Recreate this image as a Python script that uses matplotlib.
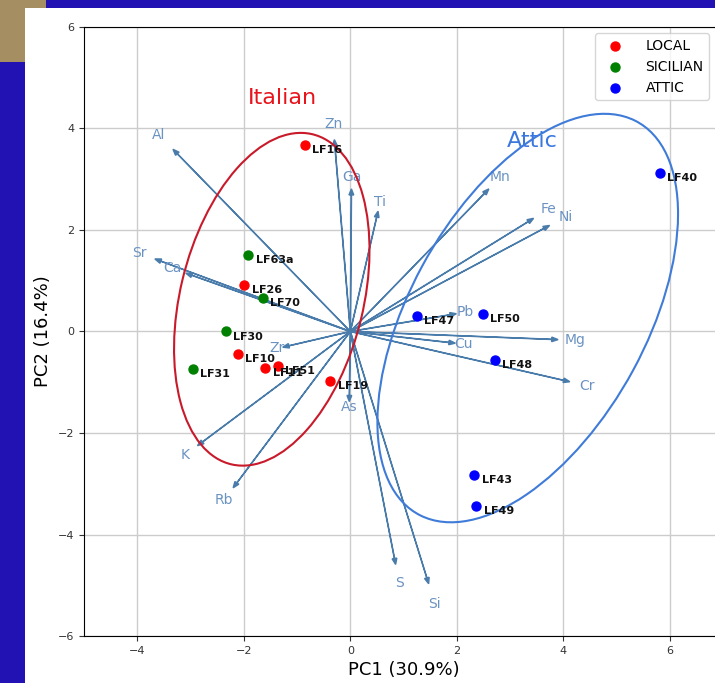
import numpy as np
import matplotlib
matplotlib.use("Agg")
import matplotlib.pyplot as plt
from matplotlib.patches import Ellipse, Rectangle

# PCA biplot: sample scores + element loadings

groups = ["LOCAL", "SICILIAN", "ATTIC"]
group_colors = ["red", "green", "blue"]

local_names = ["LF16", "LF26", "LF10", "LF11", "LF51", "LF19"]
local_pc1 = [-0.86, -1.99, -2.11, -1.60, -1.36, -0.38]
local_pc2 = [3.67, 0.91, -0.44, -0.71, -0.68, -0.97]

sicil_names = ["LF63a", "LF70", "LF30", "LF31"]
sicil_pc1 = [-1.92, -1.64, -2.34, -2.96]
sicil_pc2 = [1.50, 0.66, 0.00, -0.74]

attic_names = ["LF40", "LF47", "LF50", "LF48", "LF43", "LF49"]
attic_pc1 = [5.81, 1.25, 2.49, 2.71, 2.33, 2.36]
attic_pc2 = [3.13, 0.30, 0.35, -0.56, -2.82, -3.44]

elements = ["Al", "Zn", "Ga", "Ti", "Sr", "Ca", "Zr", "K", "Rb", "As",
            "S", "Si", "Mn", "Fe", "Ni", "Pb", "Mg", "Cu", "Cr"]
load_pc1 = [-3.33, -0.30, 0.02, 0.52, -3.67, -3.09, -1.27, -2.87, -2.20, -0.02,
            0.85, 1.47, 2.60, 3.44, 3.74, 1.99, 3.90, 1.97, 4.12]
load_pc2 = [3.59, 3.78, 2.81, 2.37, 1.43, 1.15, -0.31, -2.25, -3.08, -1.38,
            -4.59, -4.97, 2.81, 2.23, 2.09, 0.35, -0.16, -0.23, -0.99]

fig = plt.figure(figsize=(7.15, 6.83), dpi=100)
fig.patch.set_facecolor("#2212b4")
fig.add_artist(Rectangle((0, 0.909), 0.064, 0.091, transform=fig.transFigure,
                         facecolor="#a58f62", edgecolor="none", zorder=0))
fig.add_artist(Rectangle((0.035, 0), 1.0, 0.988, transform=fig.transFigure,
                         facecolor="white", edgecolor="none", zorder=0))

ax = fig.add_axes([0.1175, 0.0688, 0.894, 0.8917])
ax.set_xlim(-5, 7)
ax.set_ylim(-6, 6)
ax.grid(True, color="#cccccc", linewidth=1)
ax.set_axisbelow(True)

# loadings
for name, dx, dy in zip(elements, load_pc1, load_pc2):
    ax.arrow(0, 0, dx, dy, color="#4a7cab", width=0.006, head_width=0.09,
             head_length=0.12, length_includes_head=True, zorder=2)
    ax.text(dx * 1.08, dy * 1.08, name, color="#6b93c2", fontsize=10,
            ha="center", va="center", zorder=3)

# scores
sets = [(local_names, local_pc1, local_pc2),
        (sicil_names, sicil_pc1, sicil_pc2),
        (attic_names, attic_pc1, attic_pc2)]
for (names, xs, ys), g, c in zip(sets, groups, group_colors):
    ax.scatter(xs, ys, color=c, s=42, label=g, zorder=4)
    for n, x, y in zip(names, xs, ys):
        ax.text(x + 0.14, y - 0.1, n, fontsize=8, fontweight="bold",
                color="#111111", va="center", zorder=5)

# group ellipses
ax.add_patch(Ellipse((-1.475, 0.635), 6.68, 3.44, angle=77.1, fill=False,
                     edgecolor="#c81a2a", linewidth=1.5, zorder=3))
ax.add_patch(Ellipse((3.33, 0.265), 8.76, 4.46, angle=62.7, fill=False,
                     edgecolor="#3f7bd8", linewidth=1.5, zorder=3))
ax.text(-1.28, 4.61, "Italian", color="#e8141c", fontsize=16,
        ha="center", va="center")
ax.text(3.42, 3.76, "Attic", color="#3a78e0", fontsize=16,
        ha="center", va="center")

ax.set_xticks([-4, -2, 0, 2, 4, 6])
ax.set_yticks([-6, -4, -2, 0, 2, 4, 6])
ax.tick_params(labelsize=8, colors="#333333")
ax.set_xlabel("PC1 (30.9%)", fontsize=13)
ax.set_ylabel("PC2 (16.4%)", fontsize=13)

ax.legend(loc="upper right", bbox_to_anchor=(0.978, 0.99), borderaxespad=0,
          fontsize=10, handletextpad=1.2)

fig.savefig("out.png", dpi=100, facecolor=fig.get_facecolor())
